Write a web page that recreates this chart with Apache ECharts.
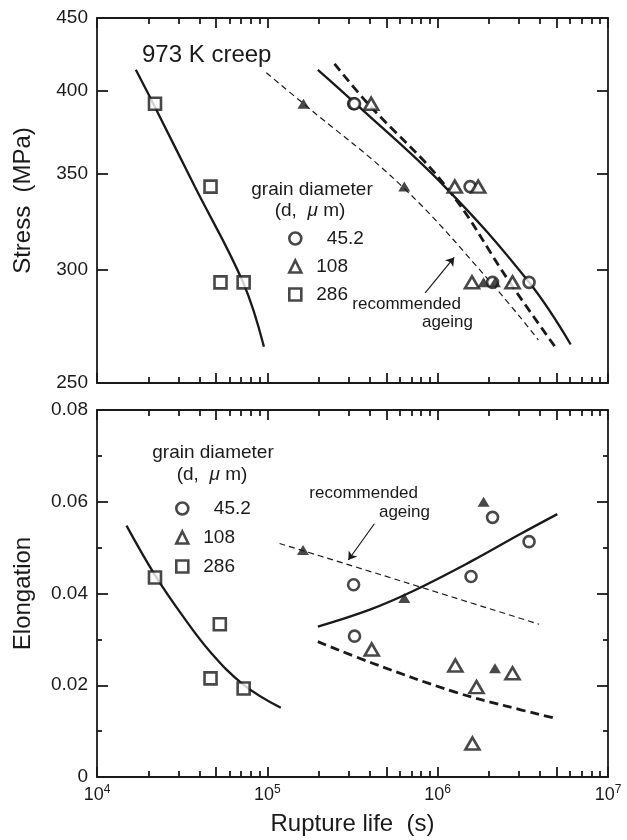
<!DOCTYPE html>
<html lang="en">
<head>
<meta charset="UTF-8">
<title>973 K creep</title>
<script src="https://cdn.jsdelivr.net/npm/echarts@6/dist/echarts.min.js"></script>
<style>html,body{margin:0;padding:0;background:#fff}</style>
</head>
<body>
<div id="main" style="width:627px;height:840px;"></div>
<script>
var FONT = '"Liberation Sans", Arial, sans-serif';
var INK = '#1a1a1a';

// ---- axis ticks ----
var xLabelTicks = [1e4, 1e5, 1e6, 1e7];
var xMajorTicks = [1e4, 5e4, 1e5, 5e5, 1e6, 5e6, 1e7];
var xMinorMult = [2, 3, 4, 6, 7, 8, 9];
var xDecades = [1e4, 1e5, 1e6];
var stressTicks = [250, 300, 350, 400, 450];
var elongTicks = [0, 0.02, 0.04, 0.06, 0.08];

// ---- top panel: stress (MPa) vs rupture life (s) ----
var stressD45  = [[3.21e5, 392], [3.25e5, 392], [1.55e6, 343], [2.10e6, 294], [3.44e6, 294]];
var stressD108 = [[4.07e5, 392], [1.26e6, 343], [1.73e6, 343], [1.59e6, 294], [2.75e6, 294]];
var stressD286 = [[2.19e4, 392], [4.64e4, 343], [5.31e4, 294], [7.26e4, 294]];
var stressRec  = [[1.63e5, 392], [6.37e5, 343], [1.86e6, 294], [2.17e6, 294]];

var stressFit45  = [[1.98e5, 414], [3.3e5, 392], [1.10e6, 343], [3.44e6, 294], [6.04e6, 266]];
var stressFit108 = [[2.48e5, 418], [3.9e5, 392], [1.12e6, 343], [2.65e6, 294], [4.89e6, 265]];
var stressFit286 = [[1.69e4, 414], [2.14e4, 392], [3.75e4, 343], [7.2e4, 294], [9.55e4, 265]];
var stressFitRec = [[9.86e4, 412], [1.63e5, 392], [6.2e5, 343], [2.05e6, 294], [3.9e6, 268]];

// ---- bottom panel: elongation vs rupture life (s) ----
var elongD45  = [[3.21e5, 0.0419], [3.25e5, 0.0307], [1.57e6, 0.0437], [2.10e6, 0.0566], [3.44e6, 0.0513]];
var elongD108 = [[4.10e5, 0.0278], [1.27e6, 0.0243], [1.69e6, 0.0196], [1.60e6, 0.0073], [2.75e6, 0.0226]];
var elongD286 = [[2.19e4, 0.0435], [5.26e4, 0.0333], [4.64e4, 0.0215], [7.26e4, 0.0193]];
var elongRec  = [[1.62e5, 0.0495], [6.37e5, 0.0390], [1.86e6, 0.0600], [2.17e6, 0.0237]];

var elongFit45  = [[1.98e5, 0.0328], [4.0e5, 0.0365], [7.13e5, 0.0405], [1.57e6, 0.0470], [3.0e6, 0.0528], [5.04e6, 0.0573]];
var elongFit108 = [[1.98e5, 0.0295], [4.15e5, 0.0248], [1.27e6, 0.0185], [2.5e6, 0.0155], [4.9e6, 0.0128]];
var elongFit286 = [[1.49e4, 0.0548], [2.19e4, 0.0440], [3.13e4, 0.0355], [4.64e4, 0.0272], [7.26e4, 0.0201], [1.20e5, 0.0151]];
var elongFitRec = [[1.18e5, 0.0509], [6.37e5, 0.0425], [3.94e6, 0.0333]];

// annotation arrows (data units)
var arrowTop = [[8.45e5, 289], [1.25e6, 306]];
var arrowBottom = [[4.25e5, 0.0552], [2.99e5, 0.0473]];

var legendNames = ['45.2', '108', '286'];

function lg(v) { return Math.log10(v); }

var xMinorTicks = [];
xDecades.forEach(function (d) {
    xMinorMult.forEach(function (m) { xMinorTicks.push(m * d); });
});

var lineW = 1.8;

function xTickAxis(grid, pos, vals, len, showLine) {
    return {
        type: 'value', gridIndex: grid, position: pos, min: 4, max: 7,
        axisLine: {show: showLine, onZero: false, lineStyle: {color: INK, width: lineW}},
        axisTick: {show: true, inside: true, length: len, customValues: vals.map(lg),
                   lineStyle: {color: INK, width: lineW}},
        axisLabel: {show: false},
        splitLine: {show: false}
    };
}

var xAxes = [
    {type: 'log', gridIndex: 0, min: 1e4, max: 1e7, show: false},
    xTickAxis(0, 'bottom', xMajorTicks, 10, true),
    xTickAxis(0, 'bottom', xMinorTicks, 6, false),
    xTickAxis(0, 'top', xMajorTicks, 10, true),
    xTickAxis(0, 'top', xMinorTicks, 6, false),
    {type: 'log', gridIndex: 1, min: 1e4, max: 1e7, show: false},
    xTickAxis(1, 'bottom', xMajorTicks, 10, true),
    xTickAxis(1, 'bottom', xMinorTicks, 6, false),
    xTickAxis(1, 'top', xMajorTicks, 10, true),
    xTickAxis(1, 'top', xMinorTicks, 6, false)
];
xAxes[6].axisLabel = {
    show: true, customValues: xLabelTicks.map(lg), margin: 7,
    formatter: function (v) { return '{b|10}{s|' + Math.round(v) + '}'; },
    rich: {
        b: {fontSize: 18, fontFamily: FONT, color: INK, verticalAlign: 'bottom'},
        s: {fontSize: 12, fontFamily: FONT, color: INK, verticalAlign: 'bottom', padding: [0, 0, 8, 0]}
    }
};
xAxes[6].name = 'Rupture life  (s)';
xAxes[6].nameLocation = 'middle';
xAxes[6].nameGap = 35;
xAxes[6].nameTextStyle = {fontSize: 24, fontFamily: FONT, color: INK};

var yAxes = [
    {type: 'log', gridIndex: 0, min: 250, max: 450, show: false},
    {
        type: 'value', gridIndex: 0, position: 'left', min: lg(250), max: lg(450),
        axisLine: {show: true, onZero: false, lineStyle: {color: INK, width: lineW}},
        axisTick: {show: true, inside: true, length: 11, customValues: stressTicks.map(lg),
                   lineStyle: {color: INK, width: lineW}},
        axisLabel: {show: true, customValues: stressTicks.map(lg), margin: 9,
                    fontSize: 19, fontFamily: FONT, color: INK,
                    formatter: function (v) { return String(Math.round(Math.pow(10, v))); }},
        splitLine: {show: false},
        name: 'Stress  (MPa)', nameLocation: 'middle', nameGap: 62,
        nameTextStyle: {fontSize: 24, fontFamily: FONT, color: INK}
    },
    {
        type: 'value', gridIndex: 0, position: 'right', min: lg(250), max: lg(450),
        axisLine: {show: true, onZero: false, lineStyle: {color: INK, width: lineW}},
        axisTick: {show: true, inside: true, length: 11, customValues: stressTicks.map(lg),
                   lineStyle: {color: INK, width: lineW}},
        axisLabel: {show: false},
        splitLine: {show: false}
    },
    {
        type: 'value', gridIndex: 1, position: 'left', min: 0, max: 0.08, interval: 0.02,
        axisLine: {show: true, onZero: false, lineStyle: {color: INK, width: lineW}},
        axisTick: {show: true, inside: true, length: 11, lineStyle: {color: INK, width: lineW}},
        minorTick: {show: true, splitNumber: 2, length: 5, lineStyle: {color: INK, width: lineW}},
        axisLabel: {show: true, margin: 9, fontSize: 19, fontFamily: FONT, color: INK,
                    formatter: function (v) { return v === 0 ? '0' : v.toFixed(2); }},
        splitLine: {show: false}, minorSplitLine: {show: false},
        name: 'Elongation', nameLocation: 'middle', nameGap: 62,
        nameTextStyle: {fontSize: 24, fontFamily: FONT, color: INK}
    },
    {
        type: 'value', gridIndex: 1, position: 'right', min: 0, max: 0.08, interval: 0.02,
        axisLine: {show: true, onZero: false, lineStyle: {color: INK, width: lineW}},
        axisTick: {show: true, inside: true, length: 11, lineStyle: {color: INK, width: lineW}},
        minorTick: {show: true, splitNumber: 2, length: 5, lineStyle: {color: INK, width: lineW}},
        axisLabel: {show: false},
        splitLine: {show: false}, minorSplitLine: {show: false}
    }
];

function pts(name, data, xi, yi, symbol, size, filled) {
    return {
        type: 'scatter', name: name, data: data, xAxisIndex: xi, yAxisIndex: yi,
        symbol: symbol, symbolSize: size, z: 4, silent: true,
        itemStyle: filled ? {color: INK, borderColor: INK, borderWidth: 0}
                          : {color: '#fff', borderColor: INK, borderWidth: 2.6}
    };
}

function fit(name, data, xi, yi, width, dash) {
    return {
        type: 'line', name: name, data: data, xAxisIndex: xi, yAxisIndex: yi,
        smooth: 0.4, symbol: 'none', showSymbol: false, silent: true, z: 2,
        lineStyle: {color: INK, width: width, type: dash}
    };
}

function arrow(line) {
    return {
        silent: true, symbol: ['none', 'arrow'], symbolSize: 8,
        label: {show: false},
        lineStyle: {color: INK, width: 1.2, type: 'solid'},
        data: [[{coord: line[0]}, {coord: line[1]}]]
    };
}

var series = [
    fit('fit286', stressFit286, 0, 0, 2.3, 'solid'),
    fit('fit45', stressFit45, 0, 0, 2.3, 'solid'),
    fit('fit108', stressFit108, 0, 0, 2.8, [9, 5]),
    fit('fitRec', stressFitRec, 0, 0, 1.2, [6, 4]),
    pts('45.2', stressD45, 0, 0, 'circle', 11, false),
    pts('108', stressD108, 0, 0, 'triangle', [14, 12], false),
    pts('286', stressD286, 0, 0, 'rect', 12, false),
    pts('recommended ageing', stressRec, 0, 0, 'triangle', [12, 10], true),

    fit('fit286', elongFit286, 5, 3, 2.3, 'solid'),
    fit('fit45', elongFit45, 5, 3, 2.3, 'solid'),
    fit('fit108', elongFit108, 5, 3, 2.8, [9, 5]),
    fit('fitRec', elongFitRec, 5, 3, 1.2, [6, 4]),
    pts('45.2', elongD45, 5, 3, 'circle', 11, false),
    pts('108', elongD108, 5, 3, 'triangle', [14, 12], false),
    pts('286', elongD286, 5, 3, 'rect', 12, false),
    pts('recommended ageing', elongRec, 5, 3, 'triangle', [12, 10], true)
];
series[7].markLine = arrow(arrowTop);
series[15].markLine = arrow(arrowBottom);

function txt(x, y, text, size, align) {
    return {
        type: 'text', x: x, y: y, silent: true,
        style: {
            text: text, fontSize: size, fontFamily: FONT, fill: INK,
            textAlign: align, textVerticalAlign: 'middle', align: align, verticalAlign: 'middle',
            rich: {mu: {fontStyle: 'italic', fontSize: size, fontFamily: FONT, fill: INK, color: INK}}
        }
    };
}

function legendBox(left, top, gap) {
    return {
        left: left, top: top, orient: 'vertical', itemWidth: 12, itemHeight: 12, itemGap: gap,
        selectedMode: false, data: legendNames,
        itemStyle: {borderWidth: 2.6, borderColor: INK, color: '#fff'},
        formatter: function (n) { return n === '45.2' ? '  ' + n : n; },
        textStyle: {fontSize: 19, fontFamily: FONT, color: INK, padding: [0, 0, 0, 10]}
    };
}

var option = {
    animation: false,
    backgroundColor: '#fff',
    grid: [
        {left: 97, top: 18, width: 511, height: 365},
        {left: 97, top: 410, width: 511, height: 367}
    ],
    xAxis: xAxes,
    yAxis: yAxes,
    legend: [legendBox(283, 224, 9), legendBox(170, 494, 10)],
    graphic: [
        txt(142, 55, '973 K creep', 24, 'left'),
        txt(312, 190, 'grain diameter', 19, 'center'),
        txt(310, 211, '(d,  {mu|\u03bc} m)', 19, 'center'),
        txt(461, 304, 'recommended', 17, 'right'),
        txt(473, 322, 'ageing', 17, 'right'),
        txt(213, 453, 'grain diameter', 19, 'center'),
        txt(212, 475, '(d,  {mu|\u03bc} m)', 19, 'center'),
        txt(418, 493, 'recommended', 17, 'right'),
        txt(430, 512, 'ageing', 17, 'right')
    ],
    series: series
};

var myChart = echarts.init(document.getElementById('main'));
myChart.setOption(option);
</script>
</body>
</html>
